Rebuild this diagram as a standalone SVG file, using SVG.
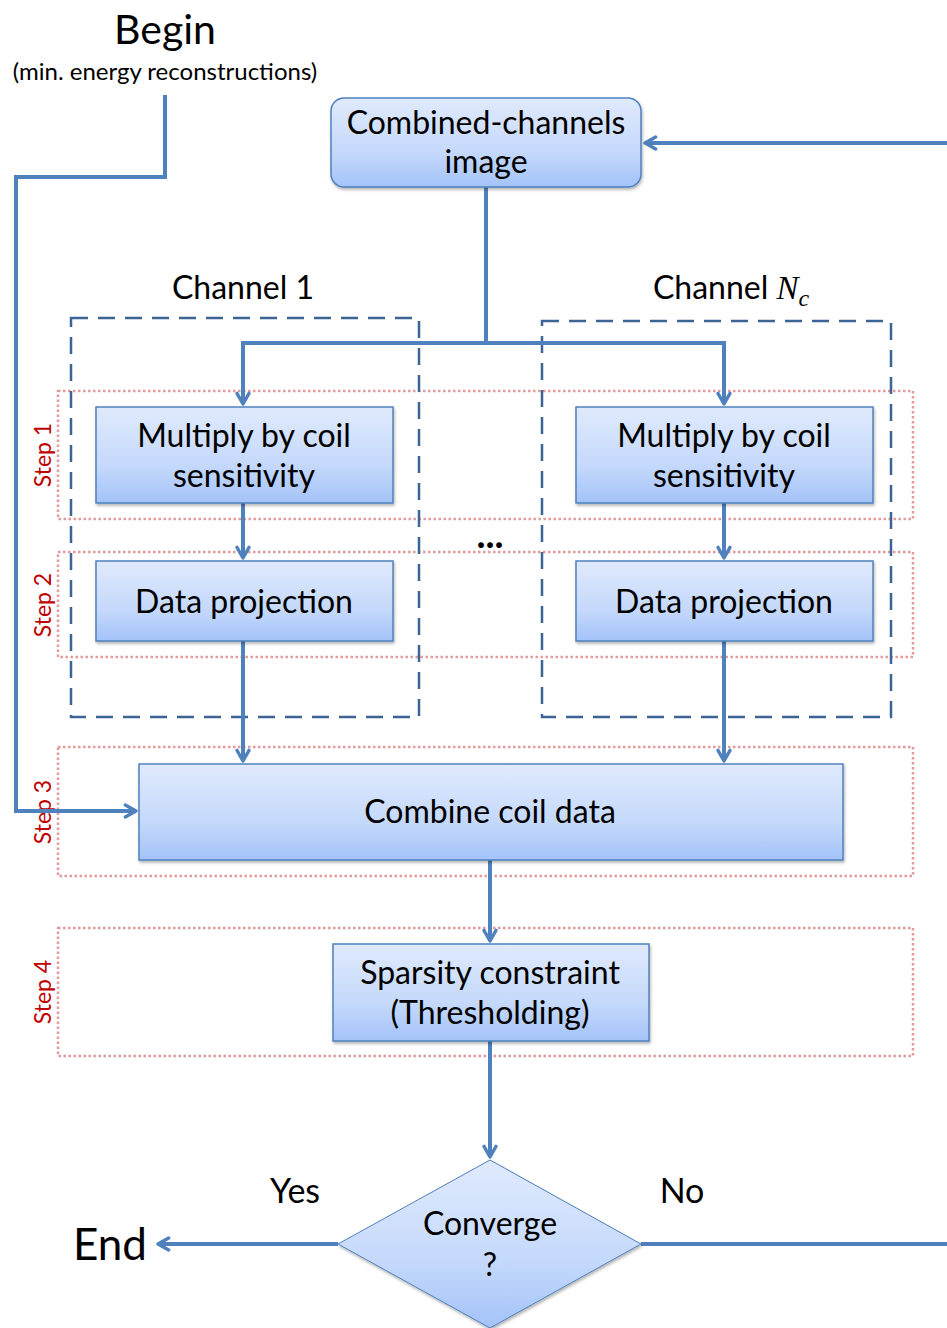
<svg xmlns="http://www.w3.org/2000/svg" width="947" height="1328" viewBox="0 0 947 1328">
<style>
text{font-family:Lato,"Open Sans","Liberation Sans",sans-serif;fill:#000}
.box{fill:url(#g);stroke:#4f81bd;stroke-width:1.5;filter:url(#sh)}
.t{font-size:32px;text-anchor:middle}
.con{fill:none;stroke:#4f81bd;stroke-width:4;stroke-linejoin:miter}
.arr{marker-end:url(#ah)}
.ch{fill:none;stroke:#3c6596;stroke-width:2.5;stroke-dasharray:17 10}
.st{fill:none;stroke:#e39a9a;stroke-width:2.5;stroke-dasharray:2.5 2.5}
.sl{font-size:23px;fill:#c00000;text-anchor:middle}
</style>
<defs>
<linearGradient id="g" x1="0" y1="0" x2="0" y2="1">
<stop offset="0" stop-color="#e0eafd"/>
<stop offset="0.6" stop-color="#c5d9fb"/>
<stop offset="1" stop-color="#a4c3f9"/>
</linearGradient>
<filter id="sh" x="-5%" y="-5%" width="110%" height="120%">
<feDropShadow dx="1" dy="2" stdDeviation="1.5" flood-color="#000" flood-opacity="0.3"/>
</filter>
<marker id="ah" viewBox="0 0 12 12" refX="10" refY="6" markerWidth="4" markerHeight="4" markerUnits="strokeWidth" orient="auto">
<polyline points="2,1.5 10,6 2,10.5" fill="none" stroke="#4f81bd" stroke-width="2.5" stroke-linecap="round" stroke-linejoin="round"/>
</marker>
</defs>
<rect width="947" height="1328" fill="#fff"/>

<g id="steps">
<rect class="st" x="58" y="391" width="855" height="128"/>
<rect class="st" x="58" y="552" width="855" height="105"/>
<rect class="st" x="58" y="747" width="855" height="129"/>
<rect class="st" x="58" y="928" width="855" height="128"/>
<text class="sl" transform="translate(51,455) rotate(-90)">Step 1</text>
<text class="sl" transform="translate(51,605) rotate(-90)">Step 2</text>
<text class="sl" transform="translate(51,812) rotate(-90)">Step 3</text>
<text class="sl" transform="translate(51,992) rotate(-90)">Step 4</text>
</g>

<g id="channel1">
<rect class="ch" x="71" y="318" width="348" height="399"/>
<text class="t" x="243" y="299" font-size="30">Channel 1</text>
</g>
<g id="channelNc">
<rect class="ch" x="542" y="321" width="349" height="396"/>
<text class="t" x="731" y="299" font-size="30">Channel <tspan font-family="'Liberation Serif',serif" font-style="italic" font-size="33">N</tspan><tspan font-family="'Liberation Serif',serif" font-style="italic" font-size="24" dy="7">c</tspan></text>
</g>

<g id="connectors">
<polyline class="con arr" points="165,95 165,177 16,177 16,811 136,811"/>
<polyline class="con arr" points="947,143 645,143"/>
<polyline class="con" points="486,187 486,343"/>
<polyline class="con arr" points="486,343 243,343 243,404"/>
<polyline class="con arr" points="486,343 724,343 724,404"/>
<polyline class="con arr" points="243,503 243,558"/>
<polyline class="con arr" points="724,503 724,558"/>
<polyline class="con arr" points="243,641 243,761"/>
<polyline class="con arr" points="724,641 724,761"/>
<polyline class="con arr" points="490,860 490,941"/>
<polyline class="con arr" points="490,1041 490,1157"/>
<polyline class="con arr" points="338,1244 158,1244"/>
<polyline class="con" points="641,1244 947,1244"/>
</g>

<g id="begin">
<text x="165" y="44" font-size="41" text-anchor="middle">Begin</text>
<text x="165" y="80" font-size="24" text-anchor="middle">(min. energy reconstructions)</text>
</g>

<g id="combined">
<rect class="box" x="331" y="98" width="310" height="89" rx="13"/>
<text class="t" x="486" y="134">Combined-channels</text>
<text class="t" x="486" y="173">image</text>
</g>

<g id="mult1">
<rect class="box" x="96" y="407" width="297" height="96"/>
<text class="t" x="244" y="447">Multiply by coil</text>
<text class="t" x="244" y="487">sensitivity</text>
</g>
<g id="mult2">
<rect class="box" x="576" y="407" width="297" height="96"/>
<text class="t" x="724" y="447">Multiply by coil</text>
<text class="t" x="724" y="487">sensitivity</text>
</g>

<g id="dots">
<text x="490" y="548" font-size="38" font-weight="bold" text-anchor="middle">...</text>
</g>

<g id="proj1">
<rect class="box" x="96" y="561" width="297" height="80"/>
<text class="t" x="244" y="613">Data projection</text>
</g>
<g id="proj2">
<rect class="box" x="576" y="561" width="297" height="80"/>
<text class="t" x="724" y="613">Data projection</text>
</g>

<g id="combine">
<rect class="box" x="139" y="764" width="704" height="96"/>
<text class="t" x="490" y="823">Combine coil data</text>
</g>

<g id="sparsity">
<rect class="box" x="333" y="944" width="316" height="97"/>
<text class="t" x="490" y="984">Sparsity constraint</text>
<text class="t" x="490" y="1024">(Thresholding)</text>
</g>

<g id="converge">
<polygon class="box" points="490,1160 641,1244 490,1328 338,1244" style="stroke-width:1"/>
<text class="t" x="490" y="1235" font-size="30">Converge</text>
<text class="t" x="490" y="1276" font-size="30">?</text>
</g>

<g id="labels">
<text x="295" y="1203" font-size="34" text-anchor="middle">Yes</text>
<text x="682" y="1203" font-size="34" text-anchor="middle">No</text>
<text x="110" y="1260" font-size="44" text-anchor="middle">End</text>
</g>
</svg>
